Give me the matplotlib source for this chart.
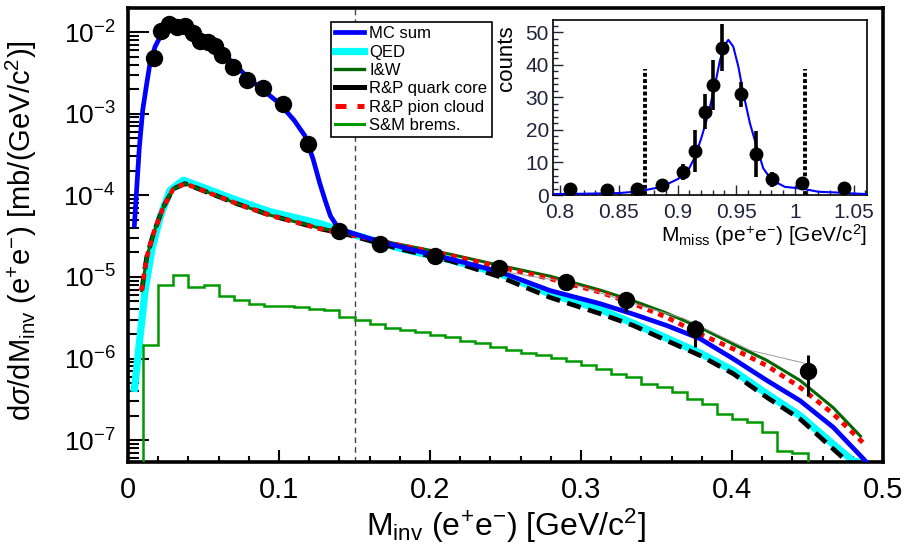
import matplotlib
matplotlib.use("Agg")
import matplotlib.pyplot as plt
import numpy as np
from matplotlib.ticker import MultipleLocator, LogLocator, NullFormatter, FuncFormatter
from matplotlib.lines import Line2D

plt.rcParams['font.family'] = ['Liberation Sans', 'DejaVu Sans']
plt.rcParams['mathtext.fontset'] = 'custom'
plt.rcParams['mathtext.rm'] = 'Liberation Sans'
plt.rcParams['mathtext.it'] = 'Liberation Sans:italic'
plt.rcParams['mathtext.bf'] = 'Liberation Sans:bold'

# ---- main plot data ----
# data points
data_x = [0.0172, 0.0216, 0.0274, 0.0322, 0.0377, 0.0433, 0.0477, 0.0532, 0.0576, 0.062,
          0.0698, 0.079, 0.0896, 0.1025, 0.1194, 0.140, 0.1669, 0.2033, 0.2459, 0.29,
          0.330, 0.3755, 0.4505]
data_y = [4.75e-3, 1.04e-2, 1.25e-2, 1.14e-2, 1.19e-2, 9.6e-3, 7.8e-3, 7.6e-3, 6.7e-3, 5.2e-3,
          3.76e-3, 2.58e-3, 2.04e-3, 1.3e-3, 4.2e-4, 3.65e-5, 2.55e-5, 1.79e-5, 1.30e-5, 8.7e-6,
          5.25e-6, 2.27e-6, 7.1e-7]
data_lo = [2.0e-4, 4e-4, 5e-4, 4e-4, 4e-4, 4e-4, 3e-4, 3e-4, 3e-4, 2e-4,
           1.5e-4, 1e-4, 8e-5, 6e-5, 2e-5, 2e-6, 1.5e-6, 1e-6, 1e-6, 1.2e-6,
           1.55e-6, 0.89e-6, 3.6e-7]
data_hi = [2.0e-4, 4e-4, 5e-4, 4e-4, 4e-4, 4e-4, 3e-4, 3e-4, 3e-4, 2e-4,
           1.5e-4, 1e-4, 8e-5, 6e-5, 2e-5, 2e-6, 1.5e-6, 1e-6, 1e-6, 1.2e-6,
           1.25e-6, 0.73e-6, 3.9e-7]

# MC sum
mc_x = [0.0042, 0.0058, 0.0075, 0.0097, 0.0124, 0.0146, 0.0179, 0.0212, 0.026, 0.031,
        0.037, 0.043, 0.05, 0.06, 0.07, 0.08, 0.09, 0.10, 0.11, 0.117,
        0.1225, 0.127, 0.1305, 0.134, 0.138, 0.143, 0.16, 0.18, 0.2132, 0.2464,
        0.2795, 0.3126, 0.3346, 0.3567, 0.3788, 0.4009, 0.423, 0.445, 0.467, 0.487, 0.495]
mc_y = [4.3e-5, 1.26e-4, 3.9e-4, 1.1e-3, 2.35e-3, 4.2e-3, 6.6e-3, 8.7e-3, 1.12e-2, 1.2e-2,
        1.17e-2, 1.02e-2, 8.5e-3, 6.2e-3, 4.1e-3, 2.7e-3, 1.9e-3, 1.35e-3, 8.3e-4, 5.4e-4,
        2.8e-4, 1.4e-4, 8.7e-5, 5.6e-5, 4.3e-5, 3.7e-5, 2.95e-5, 2.35e-5, 1.66e-5, 1.15e-5,
        6.8e-6, 4.7e-6, 3.5e-6, 2.54e-6, 1.75e-6, 9.9e-7, 5.4e-7, 3.05e-7, 1.44e-7, 5.9e-8, 4e-8]

# QED
qed_x = [0.004, 0.0079, 0.0113, 0.0157, 0.0212, 0.0278, 0.0366, 0.052, 0.072, 0.094,
         0.127, 0.147, 0.18, 0.2132, 0.2464, 0.2795, 0.3126, 0.3346, 0.3567, 0.3788,
         0.4009, 0.423, 0.445, 0.467, 0.48, 0.491]
qed_y = [3.9e-7, 1.8e-6, 6.8e-6, 2.14e-5, 5.4e-5, 1.15e-4, 1.53e-4, 1.2e-4, 8.7e-5, 6.3e-5,
         4.5e-5, 3.4e-5, 2.24e-5, 1.62e-5, 1.1e-5, 6.2e-6, 4.0e-6, 2.7e-6, 1.78e-6, 1.17e-6,
         7.1e-7, 3.7e-7, 2.0e-7, 8.9e-8, 5.6e-8, 5e-8]

# R&P quark core
qc_x = [0.009, 0.0124, 0.0168, 0.0234, 0.03, 0.0377, 0.052, 0.072, 0.094, 0.127,
        0.147, 0.18, 0.2132, 0.2464, 0.2795, 0.3126, 0.3346, 0.3567, 0.3788, 0.4009,
        0.423, 0.445, 0.467, 0.478]
qc_y = [6.8e-6, 1.75e-5, 3.4e-5, 7.2e-5, 1.2e-4, 1.39e-4, 1.1e-4, 7.9e-5, 5.7e-5, 3.9e-5,
        3.24e-5, 2.2e-5, 1.58e-5, 1.0e-5, 5.6e-6, 3.55e-6, 2.54e-6, 1.66e-6, 1.09e-6, 6.5e-7,
        3.35e-7, 1.82e-7, 7.8e-8, 5.1e-8]

# R&P pion cloud
pc_x = [0.009, 0.0124, 0.0168, 0.0234, 0.03, 0.0377, 0.052, 0.072, 0.094, 0.127,
        0.147, 0.18, 0.2132, 0.2464, 0.2795, 0.3126, 0.3346, 0.3567, 0.3788, 0.4009,
        0.423, 0.445, 0.467, 0.489]
pc_y = [6.8e-6, 1.75e-5, 3.4e-5, 7.2e-5, 1.2e-4, 1.39e-4, 1.1e-4, 7.9e-5, 5.7e-5, 3.9e-5,
        3.3e-5, 2.44e-5, 1.84e-5, 1.32e-5, 9.5e-6, 6.5e-6, 4.7e-6, 3.2e-6, 2.0e-6, 1.31e-6,
        8.2e-7, 4.45e-7, 2.1e-7, 8.5e-8]

# I&W
iw_x = [0.009, 0.0124, 0.0168, 0.0234, 0.03, 0.0377, 0.052, 0.072, 0.094, 0.127,
        0.147, 0.18, 0.2132, 0.2464, 0.2795, 0.3126, 0.3346, 0.3567, 0.3788, 0.4009,
        0.423, 0.445, 0.467, 0.485]
iw_y = [6.8e-6, 1.75e-5, 3.4e-5, 7.2e-5, 1.2e-4, 1.39e-4, 1.1e-4, 7.9e-5, 5.7e-5, 3.95e-5,
        3.35e-5, 2.5e-5, 1.9e-5, 1.38e-5, 1.02e-5, 6.9e-6, 5.1e-6, 3.6e-6, 2.4e-6, 1.5e-6,
        9.5e-7, 5.4e-7, 2.5e-7, 1.12e-7]

# thin grey line near the high-mass points
grey_x = [0.25, 0.29, 0.335, 0.368, 0.412, 0.45]
grey_y = [1.15e-5, 8.7e-6, 4.7e-6, 3.1e-6, 1.26e-6, 8.6e-7]

# S&M brems. histogram, bins of 0.01
brems_edges = np.round(np.arange(0.0, 0.501, 0.01), 3)
brems_vals = [1e-8, 1.45e-6, 7.9e-6, 1.05e-5, 7.6e-6, 8.0e-6, 5.8e-6, 5.25e-6, 4.7e-6, 4.4e-6,
              4.35e-6, 4.27e-6, 4.1e-6, 3.9e-6, 3.24e-6, 2.99e-6, 2.63e-6, 2.4e-6, 2.24e-6, 2.09e-6,
              1.95e-6, 1.82e-6, 1.66e-6, 1.55e-6, 1.38e-6, 1.29e-6, 1.17e-6, 1.1e-6, 1.02e-6, 9.3e-7,
              8.3e-7, 7.4e-7, 6.5e-7, 6.0e-7, 4.9e-7, 4.5e-7, 3.9e-7, 3.24e-7, 2.78e-7, 2.09e-7,
              1.82e-7, 1.66e-7, 1.26e-7, 7.4e-8, 6.9e-8, 1e-8, 1e-8, 1e-8, 1e-8, 1e-8]

# ---- inset data ----
in_x = [0.8085, 0.8397, 0.8653, 0.8866, 0.9044, 0.9149, 0.9234, 0.9305, 0.9376, 0.9538,
        0.9668, 0.9801, 1.0057, 1.0417]
in_y = [2, 1.5, 2, 3, 7, 13.6, 25.6, 33.8, 45.3, 31, 12.6, 4.8, 3.6, 2.3]
in_err = [1.2, 1.0, 1.2, 1.2, 2.5, 6.4, 5.4, 7.7, 7.2, 3.8, 7.0, 2.3, 1.5, 1.5]
fit_x = [0.794, 0.82, 0.85, 0.86, 0.8723, 0.8865, 0.9007, 0.9092, 0.915, 0.9206,
         0.9263, 0.932, 0.9362, 0.9404, 0.9433, 0.9475, 0.9518, 0.956, 0.9617, 0.9674,
         0.973, 0.9801, 0.9915, 1.0057, 1.0199, 1.034, 1.0482, 1.061]
fit_y = [0.3, 0.4, 0.6, 0.9, 1.5, 2.5, 5, 7.7, 11.8, 17.9,
         25, 34, 41.5, 46.2, 47.7, 45.6, 39.5, 31.3, 22, 14.9,
         8.2, 4.6, 2.5, 2.0, 1.0, 0.8, 0.5, 0.3]
cut_x = [0.8723, 1.0085]
cut_top = 38.8

fig = plt.figure(figsize=(9.1, 5.44), dpi=100)
ax = fig.add_axes([0.1407, 0.1507, 0.8297, 0.8346])

ax.axvline(0.15, color='#444444', lw=1.0, ls=(0, (4, 3)), zorder=1)

ax.stairs(brems_vals, brems_edges, color='#009900', lw=1.8, zorder=3, baseline=None)
ax.plot(qed_x, qed_y, color='#00ffff', lw=5.2, zorder=2, solid_capstyle='butt')
ax.plot(qc_x, qc_y, color='black', lw=3.4, ls=(0, (3, 1.6)), zorder=3)
ax.plot(iw_x, iw_y, color='#006600', lw=2.2, zorder=3)
ax.plot(pc_x, pc_y, color='#ff0000', lw=3.4, ls=(0, (1.2, 1.2)), zorder=4)
ax.plot(mc_x, mc_y, color='#0000ff', lw=3.4, zorder=5)
ax.plot(grey_x, grey_y, color='#999999', lw=0.7, zorder=5)
ax.errorbar(data_x, data_y, yerr=[data_lo, data_hi], fmt='o', color='black', ms=11.5,
            elinewidth=2.2, capsize=0, zorder=6)

ax.set_xlim(0, 0.5)
ax.set_yscale('log')
ax.set_ylim(5.4e-8, 1.97e-2)
ax.yaxis.set_major_locator(LogLocator(base=10, numticks=20))
ax.yaxis.set_minor_locator(LogLocator(base=10, subs=np.arange(2, 10), numticks=20))
ax.yaxis.set_minor_formatter(NullFormatter())
ax.xaxis.set_major_locator(MultipleLocator(0.1))
ax.xaxis.set_minor_locator(MultipleLocator(0.02))
ax.xaxis.set_major_formatter(FuncFormatter(lambda v, p: '0' if abs(v) < 1e-9 else f'{v:g}'))
ax.tick_params(which='both', direction='in', top=False, right=False, width=1.5)
ax.tick_params(axis='y', which='major', length=15, labelsize=19, pad=9)
ax.tick_params(axis='y', which='minor', length=8)
ax.tick_params(axis='x', which='major', length=9, labelsize=21, pad=10)
ax.tick_params(axis='x', which='minor', length=4.5)
for s in ax.spines.values():
    s.set_linewidth(2.6)

ax.set_xlabel(r'M$_{\rm inv}$ (e$^{+}$e$^{-}$) [GeV/c$^{2}$]', fontsize=23, labelpad=2)
ax.set_ylabel(r'd$\sigma$/dM$_{\rm inv}$ (e$^{+}$e$^{-}$) [mb/(GeV/c$^{2}$)]', fontsize=21,
              labelpad=5)
ax.yaxis.set_label_coords(-0.118, 0.51)

handles = [Line2D([], [], color='#0000ff', lw=3.4),
           Line2D([], [], color='#00ffff', lw=5.2),
           Line2D([], [], color='#006600', lw=2.4),
           Line2D([], [], color='black', lw=3.6),
           Line2D([], [], color='#ff0000', lw=3.6, ls=(0, (2.2, 2.2))),
           Line2D([], [], color='#009900', lw=2.2)]
labels = ['MC sum', 'QED', 'I&W', 'R&P quark core', 'R&P pion cloud', 'S&M brems.']
leg = ax.legend(handles, labels, loc='upper left', bbox_to_anchor=(0.269, 0.969),
                fontsize=12, handlelength=1.75, handletextpad=0.3, labelspacing=0.2,
                borderpad=0.25, borderaxespad=0, fancybox=False, framealpha=1, edgecolor='black')
leg.get_frame().set_linewidth(1.2)
leg.set_zorder(10)

# ---- inset ----
ax2 = fig.add_axes([0.6077, 0.6415, 0.345, 0.3217])
ax2.plot(fit_x, fit_y, color='#0000ff', lw=1.5, zorder=3)
ax2.errorbar(in_x, in_y, yerr=in_err, fmt='o', color='black', ms=9, elinewidth=2.6,
             capsize=0, zorder=4)
for cx in cut_x:
    ax2.plot([cx, cx], [0, cut_top], color='black', lw=2.8, ls=(0, (1, 0.6)), zorder=2)
ax2.set_xlim(0.794, 1.0613)
ax2.set_ylim(0, 53.8)
ax2.xaxis.set_major_locator(MultipleLocator(0.05))
ax2.xaxis.set_minor_locator(MultipleLocator(0.01))
ax2.yaxis.set_major_locator(MultipleLocator(10))
ax2.yaxis.set_minor_locator(MultipleLocator(2))
ax2.xaxis.set_major_formatter(FuncFormatter(lambda v, p: f'{v:g}'))
ax2.tick_params(which='both', direction='in', top=False, right=False, labelsize=15,
                colors='#22223a', width=1.0)
ax2.tick_params(which='major', length=7)
ax2.tick_params(axis='y', which='major', pad=3)
ax2.tick_params(axis='x', which='major', pad=6)
ax2.tick_params(which='minor', length=3.5)
for s in ax2.spines.values():
    s.set_linewidth(1.2)
ax2.set_ylabel('counts', fontsize=16, labelpad=1)
ax2.yaxis.set_label_coords(-0.115, 0.97)
ax2.yaxis.label.set_va('bottom')
ax2.yaxis.label.set_ha('right')
ax2.set_xlabel(r'M$_{\rm miss}$ (pe$^{+}$e$^{-}$) [GeV/c$^{2}$]', fontsize=15, labelpad=0,
               loc='right')

fig.savefig('out.png', dpi=100)
